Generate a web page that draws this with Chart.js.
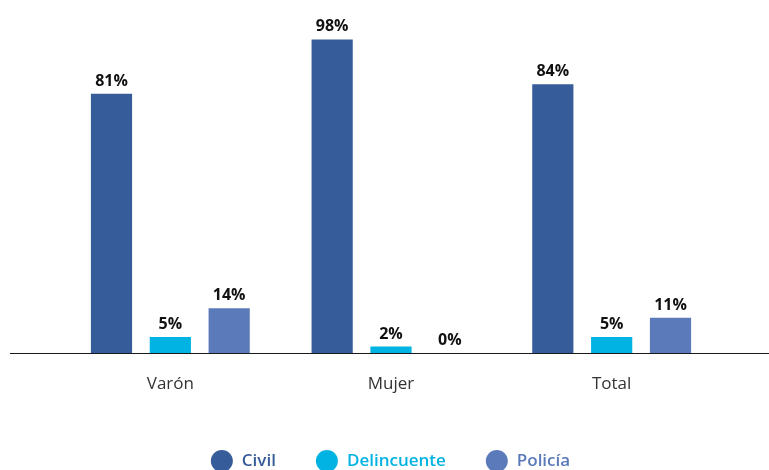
<!DOCTYPE html>
<html>
<head>
<meta charset="utf-8">
<script src="https://cdn.jsdelivr.net/npm/chart.js@4"></script>
<style>
  html, body { margin: 0; padding: 0; background: #fff; }
  #wrap { width: 769px; height: 470px; }
</style>
</head>
<body>
<div id="wrap"><canvas id="victimChart" width="769" height="470"></canvas></div>
<script>
const categories = ["Varón", "Mujer", "Total"];
const civil = [81, 98, 84];
const delincuente = [5, 2, 5];
const policia = [14, 0, 11];

const FONT = "'Open Sans', 'DejaVu Sans', sans-serif";

// etiquetas con el porcentaje encima de cada barra
const valueLabels = {
  id: "valueLabels",
  afterDatasetsDraw(chart) {
    const ctx = chart.ctx;
    ctx.save();
    ctx.font = "bold 16px " + FONT;
    ctx.fillStyle = "#111";
    ctx.textAlign = "center";
    ctx.textBaseline = "alphabetic";
    chart.data.datasets.forEach((ds, i) => {
      chart.getDatasetMeta(i).data.forEach((bar, j) => {
        ctx.fillText(ds.data[j] + "%", bar.x, bar.y - 8);
      });
    });
    ctx.restore();
  }
};

// línea base que cruza todo el ancho
const baseLine = {
  id: "baseLine",
  afterDatasetsDraw(chart) {
    const ctx = chart.ctx;
    const y = Math.round(chart.scales.y.getPixelForValue(0)) + 0.5;
    ctx.save();
    ctx.strokeStyle = "#1a1a1a";
    ctx.lineWidth = 1.2;
    ctx.beginPath();
    ctx.moveTo(10, y);
    ctx.lineTo(769, y);
    ctx.stroke();
    ctx.restore();
  }
};

// leyenda: círculo + nombre en el color de la serie, centrada abajo
const circleLegend = {
  id: "circleLegend",
  afterDraw(chart) {
    const ctx = chart.ctx;
    const r = 11, textGap = 9, itemGap = 40, y = 461;
    ctx.save();
    ctx.font = "600 17px " + FONT;
    ctx.textBaseline = "middle";
    ctx.textAlign = "left";
    const items = chart.data.datasets.map(ds => ({
      label: ds.label,
      color: ds.backgroundColor,
      w: 2 * r + textGap + ctx.measureText(ds.label).width
    }));
    const total = items.reduce((s, it) => s + it.w, 0) + itemGap * (items.length - 1);
    let x = chart.width / 2 + 6 - total / 2;
    items.forEach(it => {
      ctx.fillStyle = it.color;
      ctx.beginPath();
      ctx.arc(x + r, y, r, 0, Math.PI * 2);
      ctx.fill();
      ctx.fillText(it.label, x + 2 * r + textGap, y);
      x += it.w + itemGap;
    });
    ctx.restore();
  }
};

new Chart(document.getElementById("victimChart"), {
  type: "bar",
  data: {
    labels: categories,
    datasets: [
      { label: "Civil", data: civil, backgroundColor: "#365C9A" },
      { label: "Delincuente", data: delincuente, backgroundColor: "#00B3E3" },
      { label: "Policía", data: policia, backgroundColor: "#5B7AB9" }
    ]
  },
  options: {
    responsive: false,
    animation: false,
    layout: { padding: { top: 33, left: 60, right: 47, bottom: 62.6 } },
    datasets: { bar: { categoryPercentage: 0.8, barPercentage: 0.7 } },
    scales: {
      x: {
        grid: { display: false },
        border: { display: false },
        ticks: { color: "#333", font: { family: FONT, size: 17 }, padding: 13 }
      },
      y: { display: false, min: 0, max: 100 }
    },
    plugins: {
      tooltip: { enabled: false },
      legend: { display: false }
    }
  },
  plugins: [valueLabels, baseLine, circleLegend]
});
</script>
</body>
</html>
